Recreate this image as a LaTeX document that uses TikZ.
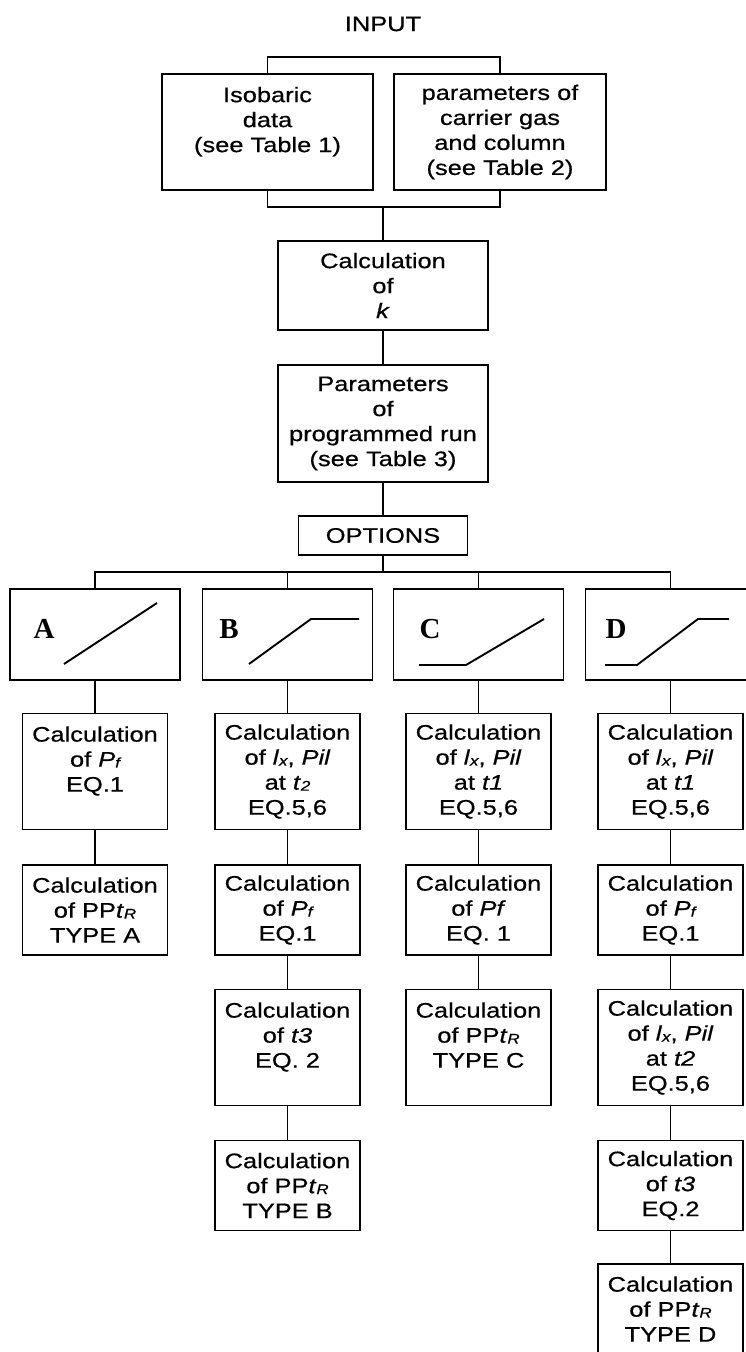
\documentclass[tikz,border=0pt]{standalone}
\usepackage{fontspec}
\setmainfont{Liberation Sans}[FakeStretch=1.21,FakeBold=0.6]
\newfontfamily\lettfont{Liberation Serif}
\newcommand{\lowidx}[1]{\raisebox{-1pt}{\fontsize{14}{14}\selectfont\itshape #1}}

\begin{document}
\begin{tikzpicture}[x=1pt,y=-1pt,
  box/.style={draw,line width=1.5pt,align=center,inner sep=0pt,outer sep=0pt,font=\fontsize{21}{25}\selectfont},
  calc/.style={box,minimum width=145pt},
  tall/.style={calc,minimum height=116pt},
  short/.style={calc,minimum height=90pt},
  opt/.style={draw,line width=1.5pt,minimum width=170pt,minimum height=91pt,inner sep=0pt,outer sep=0pt},
  link/.style={line width=1.4pt},
  ramp/.style={line width=1.9pt},
  lett/.style={font=\lettfont\bfseries\fontsize{29}{29}\selectfont,anchor=base,inner sep=0pt}]

\useasboundingbox (0,0) rectangle (745,1352);

% input part
\node[font=\fontsize{21}{25}\selectfont] (input) at (383,24) {INPUT};

\node[box,minimum width=211pt,minimum height=116pt] (iso) at (267.5,132) {Isobaric\\data\\(see Table 1)\\\mbox{}};
\node[box,minimum width=212pt,minimum height=116pt] (carrier) at (500,132) {parameters of\\carrier gas\\and column\\(see Table 2)};

\coordinate (split) at (383,57);
\draw[link] (iso.north) |- (split) -| (carrier.north);
\coordinate (join) at (383,207);
\draw[link] (iso.south) |- (join) -| (carrier.south);

\node[box,minimum width=210pt,minimum height=89pt] (calck) at (383,285.5) {Calculation\\of\\\textit{k}};
\node[box,minimum width=210pt,minimum height=117pt] (run) at (383,423.5) {Parameters\\of\\programmed run\\(see Table 3)};
\node[box,minimum width=169pt,minimum height=39pt] (opts) at (383,535.5) {OPTIONS};

\draw[link] (join) -- (calck);
\draw[link] (calck) -- (run);
\draw[link] (run) -- (opts);

% options
\coordinate (bus) at (383,572);
\draw[link] (opts) -- (bus);

\node[opt] (optA) at (95,634.5) {};
\node[opt] (optB) at (287.5,634.5) {};
\node[opt] (optC) at (478.5,634.5) {};
\node[opt] (optD) at (670.5,634.5) {};
\foreach \o in {A,B,C,D}
  \draw[link] (bus) -| (opt\o.north);

\node[lett] (letA) at (44,638) {A};
\node[lett] (letB) at (229,638) {B};
\node[lett] (letC) at (430,638) {C};
\node[lett] (letD) at (616,638) {D};

\draw[ramp] (64,664) -- (157,603);
\draw[ramp] (249,664) -- (311,619) -- (359,619);
\draw[ramp] (419,665) -- (466,665) -- (544,619);
\draw[ramp] (605,665) -- (637,665) -- (698,619) -- (729,619);

% column A
\node[tall] (a1) at (95,771.5) {Calculation\\of \textit{P}\lowidx{f}\\EQ.1\\\mbox{}};
\node[short] (a2) at (95,910) {Calculation\\of PP\textit{t}\lowidx{R}\\TYPE A};
\draw[link] (optA) -- (a1) -- (a2);

% column B
\node[tall] (b1) at (287.5,771.5) {Calculation\\of \textit{l}\lowidx{x}, \textit{Pil}\\at \textit{t}\lowidx{2}\\EQ.5,6};
\node[short] (b2) at (287.5,910) {Calculation\\of \textit{P}\lowidx{f}\\EQ.1};
\node[tall] (b3) at (287.5,1047.5) {Calculation\\of \textit{t3}\\EQ. 2\\\mbox{}};
\node[short] (b4) at (287.5,1185.5) {Calculation\\of PP\textit{t}\lowidx{R}\\TYPE B};
\draw[link] (optB) -- (b1) -- (b2) -- (b3) -- (b4);

% column C
\node[tall] (c1) at (478.5,771.5) {Calculation\\of \textit{l}\lowidx{x}, \textit{Pil}\\at \textit{t1}\\EQ.5,6};
\node[short] (c2) at (478.5,910) {Calculation\\of \textit{Pf}\\EQ. 1};
\node[tall] (c3) at (478.5,1047.5) {Calculation\\of PP\textit{t}\lowidx{R}\\TYPE C\\\mbox{}};
\draw[link] (optC) -- (c1) -- (c2) -- (c3);

% column D
\node[tall] (d1) at (670.5,771.5) {Calculation\\of \textit{l}\lowidx{x}, \textit{Pil}\\at \textit{t1}\\EQ.5,6};
\node[short] (d2) at (670.5,910) {Calculation\\of \textit{P}\lowidx{f}\\EQ.1};
\node[tall] (d3) at (670.5,1047.5) {Calculation\\of \textit{l}\lowidx{x}, \textit{Pil}\\at \textit{t2}\\EQ.5,6};
\node[short] (d4) at (670.5,1185.5) {Calculation\\of \textit{t3}\\EQ.2};
\node[short] (d5) at (670.5,1309) {Calculation\\of PP\textit{t}\lowidx{R}\\TYPE D};
\draw[link] (optD) -- (d1) -- (d2) -- (d3) -- (d4) -- (d5);

\end{tikzpicture}
\end{document}
